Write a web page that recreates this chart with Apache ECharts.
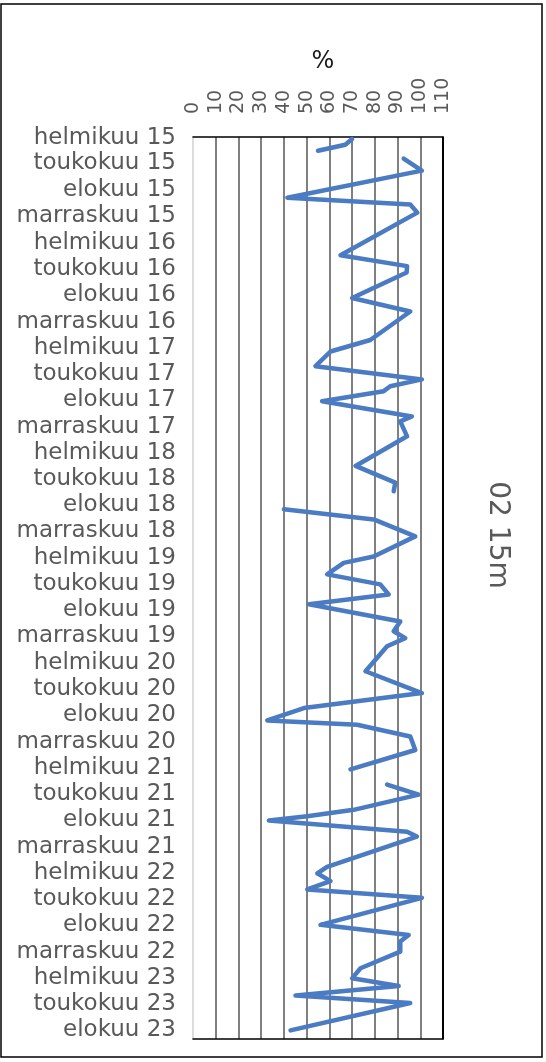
<!DOCTYPE html>
<html><head><meta charset="utf-8">
<script src="https://cdn.jsdelivr.net/npm/echarts@6/dist/echarts.min.js"></script>
<style>html,body{margin:0;padding:0;background:#fff}#c{width:546px;height:1062px}</style>
</head><body><div id="c"></div>
<script>
// measurement dates (gaps marked with null values)
const dates = ['2015-02-05','2015-02-25','2015-03-18','2015-04-01','2015-04-14','2015-05-26','2015-08-28','2015-09-21','2015-10-19',
'2016-03-15','2016-04-22','2016-05-14','2016-08-11','2016-09-27','2017-01-04','2017-02-13','2017-04-05','2017-05-21','2017-06-14',
'2017-07-01','2017-08-05','2017-09-27','2017-10-14','2017-12-05','2018-03-18','2018-05-15','2018-06-14','2018-07-15','2018-08-16',
'2018-09-20','2018-11-18','2019-01-27','2019-02-18','2019-03-30','2019-05-04','2019-06-08','2019-07-12','2019-09-10','2019-10-14',
'2019-11-07','2019-12-05','2020-03-01','2020-05-16','2020-07-07','2020-08-19','2020-09-03','2020-10-14','2020-11-30','2021-02-05',
'2021-03-01','2021-03-30','2021-05-04','2021-06-26','2021-07-18','2021-08-02','2021-09-10','2021-09-27','2022-01-10','2022-02-02',
'2022-03-01','2022-03-30','2022-04-28','2022-07-31','2022-09-04','2022-09-27','2022-11-01','2022-12-29','2023-02-02','2023-03-01',
'2023-04-03','2023-04-29','2023-08-02'];
const values = [70,67,55,null,92.7,100.7,41.5,95.6,98.7,
64.9,94.2,94,70,95.6,78,60.5,53.9,100.7,86.8,
83.9,56.8,96.3,91.2,94.2,71.5,89,88.3,null,40,
79.5,97.8,79.5,66.3,59,82.4,86.1,51,91.2,88.3,
93.4,85.4,75.9,100.7,48.8,32.7,72.2,95.6,97.8,69.3,
null,85.4,99.3,70.7,50.3,33.4,94.2,98.5,59,54.7,
60.5,50.3,100.7,56.1,94.9,91.2,91.2,73.7,70,90.5,
45.1,95.6,42.9];
const tickYears = ['2015','2016','2017','2018','2019','2020','2021','2022','2023'];
const tickMonths = ['02','05','08','11'];
const monthNames = {1:'helmikuu',4:'toukokuu',7:'elokuu',10:'marraskuu'};
const xTicks = [0,10,20,30,40,50,60,70,80,90,100,110];
const axisName = '%';
const seriesName = '02 15m';
const yMin = '2015-01-29', yMax = '2023-09-01';

function ts(s){const p=s.split('-');return new Date(+p[0],+p[1]-1,+p[2]).getTime();}
const tickTs = [];
tickYears.forEach(function(y){tickMonths.forEach(function(m){ if(!(y==='2023'&&m==='11')) tickTs.push(ts(y+'-'+m+'-01')); });});
const data = dates.map(function(d,i){return [values[i]==null?'-':values[i], ts(d)];});
const gridCols = xTicks.map(function(v,i){return i===0?'#dcdcdc':(i===xTicks.length-1?'#000':'#808080');});

const chart = echarts.init(document.getElementById('c'));
chart.setOption({
  backgroundColor:'#fff',
  animation:false,
  title:{text:axisName,left:318,top:45,textAlign:'center',textStyle:{fontFamily:'DejaVu Sans',fontSize:24,fontWeight:'normal',color:'#1a1a1a'}},
  grid:{left:193,right:103,top:137,bottom:23,containLabel:false},
  xAxis:[{type:'value',position:'top',min:0,max:110,interval:10,
    axisLine:{show:true,onZero:false,lineStyle:{color:'#000',width:1.5}},
    axisTick:{show:false},
    axisLabel:{rotate:-90,margin:23,fontFamily:'DejaVu Sans',fontSize:19,color:'#595959'},
    splitLine:{show:true,lineStyle:{color:gridCols,width:2}}},
   {type:'value',position:'bottom',min:0,max:110,interval:10,
    axisLine:{show:true,onZero:false,lineStyle:{color:'#000',width:1.5}},
    axisTick:{show:false},axisLabel:{show:false},splitLine:{show:false}}],
  yAxis:[{type:'value',inverse:true,min:ts(yMin),max:ts(yMax),position:'left',
    axisLine:{show:true,onZero:false,lineStyle:{color:'#dcdcdc',width:1.5}},
    axisTick:{show:false},splitLine:{show:false},
    axisLabel:{customValues:tickTs,margin:17,fontFamily:'DejaVu Sans',fontSize:23,color:'#595959',
      formatter:function(v){const d=new Date(v);return monthNames[d.getMonth()]+' '+String(d.getFullYear()).slice(2);}}},
   {type:'value',inverse:true,min:ts(yMin),max:ts(yMax),position:'right',
    axisLine:{show:true,onZero:false,lineStyle:{color:'#000',width:1.5}},
    axisTick:{show:false},axisLabel:{show:false},splitLine:{show:false}}],
  series:[{name:seriesName,type:'line',xAxisIndex:0,yAxisIndex:0,data:data,showSymbol:false,symbol:'none',
    connectNulls:false,lineStyle:{color:'#4a7bc3',width:4.5,cap:'round',join:'round'}}],
  graphic:[
    {type:'rect',shape:{x:1,y:4,width:541,height:1053},style:{fill:'none',stroke:'#000',lineWidth:1.5},silent:true},
    {type:'text',x:497,y:535,rotation:-Math.PI/2,style:{text:seriesName,fontFamily:'DejaVu Sans',fontSize:28,fill:'#595959',align:'center',verticalAlign:'middle'}}
  ]
});
</script></body></html>
